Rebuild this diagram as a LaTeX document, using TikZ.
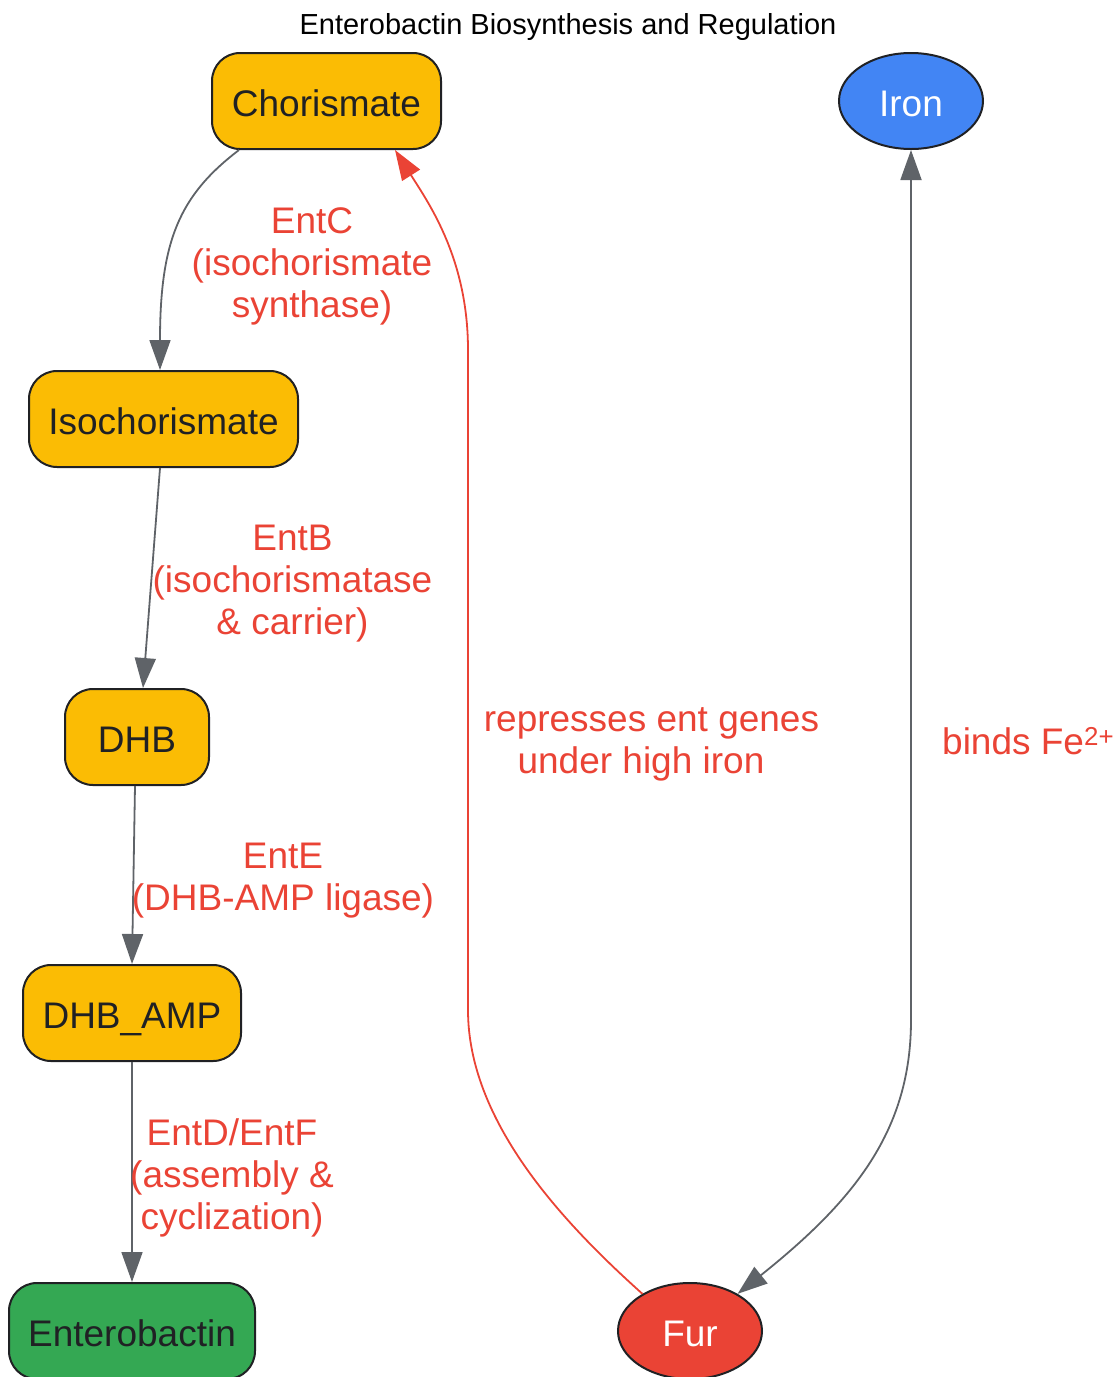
\documentclass[tikz,border=0pt]{standalone}
\usepackage{fontspec}
\setmainfont{Liberation Sans}
\usetikzlibrary{shapes.geometric,arrows.meta,calc}
\definecolor{gorange}{HTML}{FBBC04}
\definecolor{ggreen}{HTML}{34A853}
\definecolor{gred}{HTML}{EA4335}
\definecolor{gblue}{HTML}{4285F4}
\definecolor{ggray}{HTML}{5F6368}
\definecolor{gdark}{HTML}{202124}
\tikzset{
  box/.style={draw=gdark, line width=2pt, rounded corners=28pt, minimum height=96pt, inner sep=0pt, text height=31pt, text depth=0pt, text=gdark, font=\fontsize{37}{42}\selectfont},
  oval/.style={ellipse, draw=gdark, line width=2pt, minimum width=144pt, minimum height=96pt, inner sep=0pt, text height=31pt, text depth=0pt, text=white, font=\fontsize{37}{42}\selectfont},
  edge/.style={draw=ggray, line width=1.8pt, -{Triangle[length=30pt,width=21pt]}},
  redge/.style={draw=gred, line width=1.8pt, -{Triangle[length=30pt,width=21pt]}},
  elabel/.style={text=gred, align=center, inner sep=0pt, font=\fontsize{37}{42}\selectfont},
}
\begin{document}
\begin{tikzpicture}[x=1pt,y=-1pt]
\useasboundingbox (0,0) rectangle (1118,1377);
\node[inner sep=0pt, font=\fontsize{29}{34}\selectfont] (title) at (568,26.5) {Enterobactin Biosynthesis and Regulation};
\node[box, fill=gorange, minimum width=229pt] (chor) at (326.5,101) {Chorismate};
\node[box, fill=gorange, minimum width=269pt] (iso) at (163.5,419) {Isochorismate};
\node[box, fill=gorange, minimum width=144pt] (dhb) at (137,737) {DHB};
\node[box, fill=gorange, minimum width=218pt] (amp) at (132,1013) {DHB\_AMP};
\node[box, fill=ggreen, minimum width=246pt] (ent) at (132,1331) {Enterobactin};
\node[oval, fill=gblue] (iron) at (911,101) {Iron};
\node[oval, fill=gred] (fur) at (690,1331) {Fur};

\draw[edge] ([xshift=28pt]chor.south west) .. controls (180,195) and (160,240) .. ([xshift=-3.5pt]iso.north);
\draw[edge] ([xshift=-3.5pt]iso.south) -- ([xshift=6pt]dhb.north);
\draw[edge] ([xshift=-2pt]dhb.south) -- (amp.north);
\draw[edge] (amp.south) -- (ent.north);
\draw[redge] (fur.142) .. controls (560,1220) and (468,1120) .. (468,1010) -- (468,350) .. controls (468,260) and (430,205) .. ([xshift=68.5pt]chor.south);
\draw[edge, {Triangle[length=30pt,width=21pt]}-{Triangle[length=30pt,width=21pt]}] (iron.south) -- (911,1020) .. controls (911,1130) and (855,1200) .. (fur.38);

\node[elabel] (lc) at (312,266) {EntC\\(isochorismate\\synthase)};
\node[elabel] (lb) at (292.5,584) {EntB\\(isochorismatase\\\& carrier)};
\node[elabel] (le) at (283,881) {EntE\\(DHB-AMP ligase)};
\node[elabel] (ld) at (232,1178) {EntD/EntF\\(assembly \&\\cyclization)};
\node[elabel] (lr) at (651.5,744) {represses ent genes\\under high iron\hspace*{21pt}};
\node[elabel, anchor=west] (lf) at (942,741) {binds Fe\textsuperscript{2+}};
\end{tikzpicture}
\end{document}
